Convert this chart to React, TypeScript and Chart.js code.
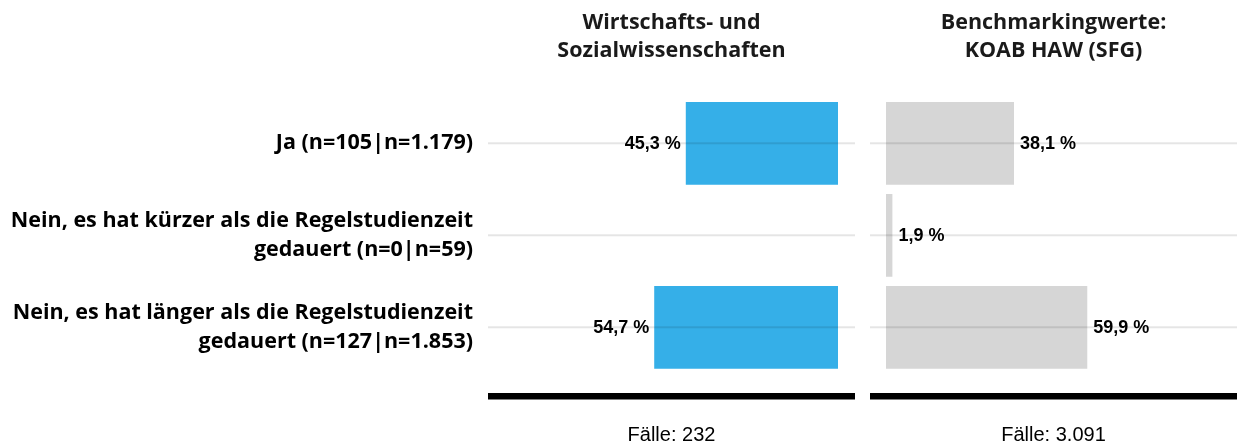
import React, { useEffect, useRef } from "react";
import { Chart, registerables } from "chart.js";

Chart.register(...registerables);

// ---- data ----
const categories: string[][] = [
  ["Ja (n=105|n=1.179)"],
  ["Nein, es hat kürzer als die Regelstudienzeit", "gedauert (n=0|n=59)"],
  ["Nein, es hat länger als die Regelstudienzeit", "gedauert (n=127|n=1.853)"],
];
const leftValues = [45.3, 0, 54.7];
const rightValues = [38.1, 1.9, 59.9];
const leftTitle = ["Wirtschafts- und", "Sozialwissenschaften"];
const rightTitle = ["Benchmarkingwerte:", "KOAB HAW (SFG)"];
const leftFooter = "Fälle: 232";
const rightFooter = "Fälle: 3.091";

const fmt = (v: number) => v.toFixed(1).replace(".", ",") + " %";

const LABEL_FONT = "'Open Sans'";
const CANVAS_H = 445;

function panelPlugin(o: {
  title: string[];
  footer: string;
  values: number[];
  extL: number;
  extR: number;
  side: "left" | "right";
}) {
  return {
    id: "panelDecor",
    afterDatasetsDraw(chart: any) {
      const ctx = chart.ctx as CanvasRenderingContext2D;
      const ca = chart.chartArea;
      const x0 = ca.left - o.extL;
      const x1 = ca.right + o.extR;
      const cx = (x0 + x1) / 2;
      const yScale = chart.scales.y;
      ctx.save();
      // gridlines
      ctx.fillStyle = "rgba(0,0,0,0.1)";
      for (let i = 0; i < o.values.length; i++) {
        const y = yScale.getPixelForValue(i);
        ctx.fillRect(x0, y - 1, x1 - x0, 2);
      }
      // bottom black line
      ctx.fillStyle = "#000";
      ctx.fillRect(x0, 393, x1 - x0, 6.5);
      // value labels
      const meta = chart.getDatasetMeta(0);
      ctx.font = "bold 18px 'Liberation Sans', Arial, sans-serif";
      ctx.textBaseline = "middle";
      ctx.fillStyle = "#000";
      meta.data.forEach((bar: any, i: number) => {
        const v = o.values[i];
        if (!v) return;
        if (o.side === "left") {
          ctx.textAlign = "right";
          ctx.fillText(fmt(v), bar.x - 5, bar.y + 1);
        } else {
          ctx.textAlign = "left";
          ctx.fillText(fmt(v), bar.x + 6, bar.y + 1);
        }
      });
      // title
      ctx.font = `bold 21.5px ${LABEL_FONT}, sans-serif`;
      ctx.textAlign = "center";
      ctx.textBaseline = "alphabetic";
      ctx.fillStyle = "#1a1a1a";
      o.title.forEach((t, i) => ctx.fillText(t, cx, 28.5 + i * 28.7));
      // footer
      ctx.font = "20px 'Liberation Sans', Arial, sans-serif";
      ctx.fillStyle = "#000";
      ctx.fillText(o.footer, cx, 441);
      ctx.restore();
    },
  };
}

export default function App() {
  const leftRef = useRef<HTMLCanvasElement | null>(null);
  const rightRef = useRef<HTMLCanvasElement | null>(null);

  useEffect(() => {
    const labels = categories;
    const left = new Chart(leftRef.current!, {
      type: "bar",
      data: {
        labels,
        datasets: [
          {
            data: leftValues,
            backgroundColor: "#35AFE8",
            barPercentage: 0.9,
            categoryPercentage: 1,
          },
        ],
      },
      options: {
        indexAxis: "y",
        animation: false,
        responsive: false,
        events: [],
        layout: { padding: { left: 0, right: 32, top: 97.3, bottom: CANVAS_H - 373.3 } },
        plugins: { legend: { display: false }, tooltip: { enabled: false }, title: { display: false } },
        scales: {
          x: { display: false, min: 0, max: 100, reverse: true },
          y: {
            position: "left",
            grid: { display: false, drawTicks: false },
            border: { display: false },
            ticks: {
              color: "#000",
              padding: 29,
              font: { family: LABEL_FONT, weight: "bold", size: 21.5, lineHeight: 28.4 / 21.5 },
            },
            afterFit(s: any) {
              s.width = 502;
            },
          },
        },
      },
      plugins: [
        panelPlugin({ title: leftTitle, footer: leftFooter, values: leftValues, extL: 14, extR: 17, side: "left" }),
      ],
    } as any);

    const right = new Chart(rightRef.current!, {
      type: "bar",
      data: {
        labels,
        datasets: [
          {
            data: rightValues,
            backgroundColor: "#D6D6D6",
            barPercentage: 0.9,
            categoryPercentage: 1,
          },
        ],
      },
      options: {
        indexAxis: "y",
        animation: false,
        responsive: false,
        events: [],
        layout: { padding: { left: 16, right: 373 - 352, top: 97.3, bottom: CANVAS_H - 373.3 } },
        plugins: { legend: { display: false }, tooltip: { enabled: false }, title: { display: false } },
        scales: {
          x: { display: false, min: 0, max: 100 },
          y: { display: false },
        },
      },
      plugins: [
        panelPlugin({ title: rightTitle, footer: rightFooter, values: rightValues, extL: 16, extR: 15, side: "right" }),
      ],
    } as any);

    return () => {
      left.destroy();
      right.destroy();
    };
  }, []);

  return (
    <div
      style={{
        position: "fixed",
        left: 0,
        top: 0,
        width: 1243,
        height: CANVAS_H,
        background: "#fff",
      }}
    >
      <canvas
        ref={leftRef}
        width={870}
        height={CANVAS_H}
        style={{ position: "absolute", left: 0, top: 0, width: 870, height: CANVAS_H, display: "block" }}
      />
      <canvas
        ref={rightRef}
        width={373}
        height={CANVAS_H}
        style={{ position: "absolute", left: 870, top: 0, width: 373, height: CANVAS_H, display: "block" }}
      />
    </div>
  );
}
